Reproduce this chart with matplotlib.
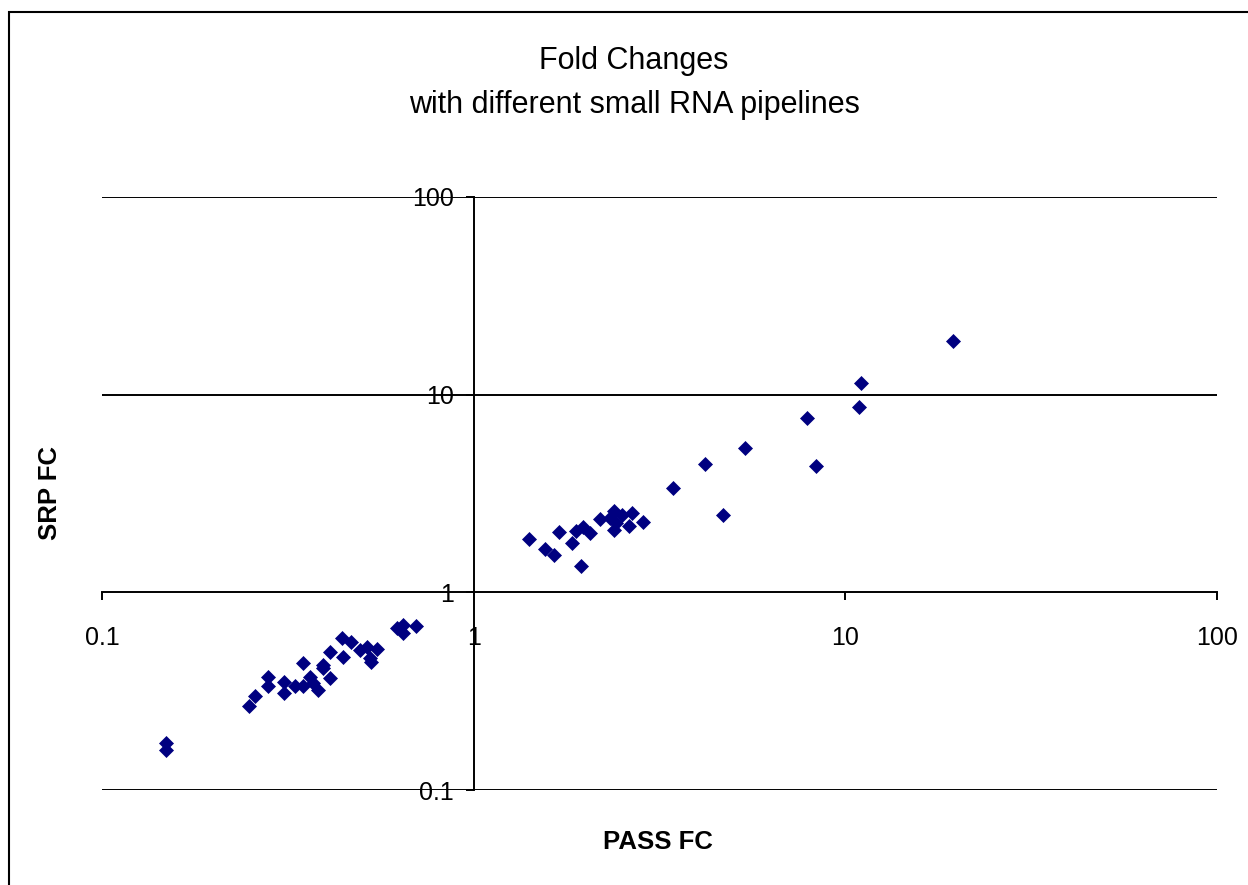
import matplotlib
matplotlib.use("Agg")
import matplotlib.pyplot as plt
from matplotlib.patches import Rectangle

plt.rcParams['font.family'] = ['Liberation Sans', 'DejaVu Sans']

# fold changes (PASS FC on x, SRP FC on y)
pass_fc = [0.149, 0.149, 0.249, 0.258, 0.280, 0.280, 0.309, 0.309, 0.330, 0.348,
           0.348, 0.363, 0.369, 0.382, 0.393, 0.393, 0.410, 0.411, 0.442, 0.446,
           0.467, 0.494, 0.515, 0.526, 0.548, 0.530, 0.621, 0.647, 0.647, 0.700,
           1.41, 1.56, 1.64, 1.70, 1.84, 1.88, 1.97, 2.05, 1.95, 2.19,
           2.38, 2.32, 2.38, 2.50, 2.61, 2.67, 2.86, 2.41, 3.44, 4.19,
           4.68, 5.37, 7.87, 8.34, 10.9, 11.0, 19.5]
srp_fc = [0.173, 0.159, 0.267, 0.299, 0.374, 0.336, 0.353, 0.311, 0.336, 0.438,
          0.336, 0.374, 0.347, 0.321, 0.429, 0.413, 0.367, 0.501, 0.585, 0.472,
          0.562, 0.511, 0.531, 0.464, 0.515, 0.446, 0.658, 0.684, 0.620, 0.675,
          1.86, 1.65, 1.55, 2.03, 1.78, 2.05, 2.13, 1.99, 1.36, 2.34,
          2.59, 2.37, 2.07, 2.46, 2.16, 2.51, 2.26, 2.23, 3.38, 4.46,
          2.46, 5.37, 7.64, 4.37, 8.63, 11.5, 18.7]

x_ticks = [0.1, 1, 10, 100]
y_ticks = [0.1, 1, 10, 100]
tick_labels = ["0.1", "1", "10", "100"]

W, H = 1248, 885
fig = plt.figure(figsize=(W / 100, H / 100), dpi=100)
ax = fig.add_axes([102 / W, 1 - 790 / H, (1217 - 102) / W, (790 - 197) / H])

ax.set_xscale('log')
ax.set_yscale('log')
ax.set_xlim(0.1, 100)
ax.set_ylim(0.1, 100)

# horizontal gridlines like the excel chart
for g in [0.1, 10, 100]:
    ax.axhline(g, color='black', lw=1.4, zorder=1)

# axes cross at 1,1
ax.spines['top'].set_visible(False)
ax.spines['right'].set_visible(False)
ax.spines['left'].set_position(('data', 1))
ax.spines['bottom'].set_position(('data', 1))
for s in ['left', 'bottom']:
    ax.spines[s].set_linewidth(1.4)
    ax.spines[s].set_zorder(2)

ax.set_xticks(x_ticks)
ax.set_xticklabels(tick_labels)
ax.set_yticks(y_ticks)
ax.set_yticklabels(tick_labels)
ax.minorticks_off()
ax.tick_params(axis='both', direction='out', length=6, width=1.4, labelsize=18)
ax.tick_params(axis='x', pad=18)
ax.tick_params(axis='y', pad=8)

ax.plot(pass_fc, srp_fc, linestyle='none', marker='D', ms=7.6, color='#000080',
        markeredgewidth=0.5, zorder=3, clip_on=False)

fig.text(634 / W, 1 - 61 / H, "Fold Changes", ha='center', va='center', fontsize=22)
fig.text(634 / W, 1 - 105 / H, "with different small RNA pipelines", ha='center', va='center', fontsize=22)
fig.text(658 / W, 1 - 842 / H, "PASS FC", ha='center', va='center', fontsize=18.5, fontweight='bold')
fig.text(50 / W, 1 - 493 / H, "SRP FC", ha='center', va='center', fontsize=18.5, fontweight='bold', rotation=90)

# chart border (runs off the right and bottom edge)
fig.patches.append(Rectangle((9 / W, 1 - 1000 / H), 1300 / W, 988 / H, transform=fig.transFigure,
                             fill=False, edgecolor='black', lw=1.5))

fig.savefig("out.png", dpi=100)
